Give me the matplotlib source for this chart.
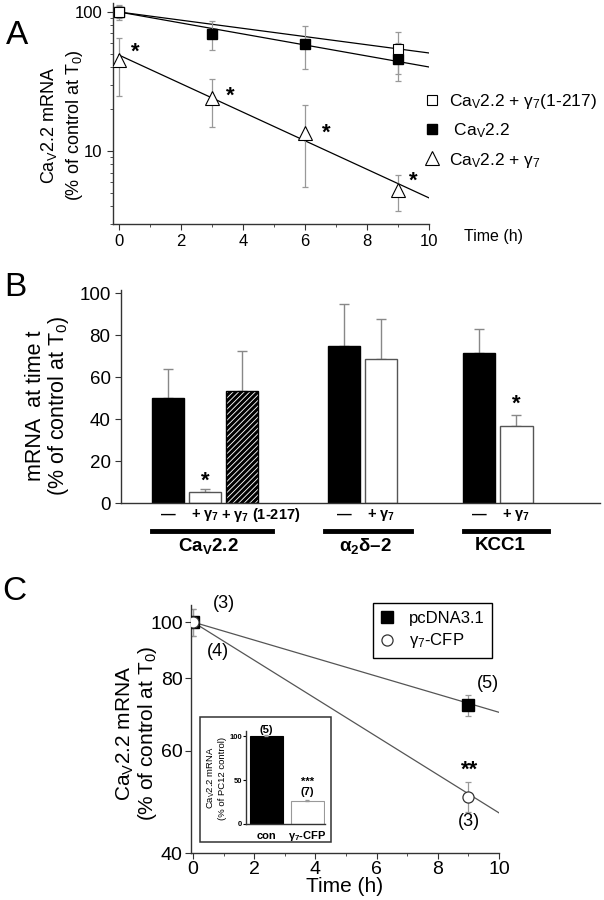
import matplotlib
matplotlib.use('Agg')
import matplotlib.pyplot as plt
import matplotlib.transforms as mtransforms
from matplotlib.patches import Rectangle
from matplotlib.lines import Line2D
from matplotlib.ticker import FixedLocator, NullFormatter, NullLocator

plt.rcParams['font.family'] = ['Liberation Sans', 'DejaVu Sans']
plt.rcParams['mathtext.fontset'] = 'custom'
plt.rcParams['mathtext.rm'] = 'Liberation Sans'
plt.rcParams['mathtext.it'] = 'Liberation Sans:italic'
plt.rcParams['mathtext.bf'] = 'Liberation Sans:bold'
plt.rcParams['hatch.linewidth'] = 2.2

# ---- panel A data (time course, log scale)
time_a = [0, 3, 6, 9]
cav_mean = [100, 69.5, 59, 46]
cav_err = [10, 16, 20, 14]
trunc_time = [0, 9]
trunc_mean = [100, 54]
trunc_err = [12, 18]
g7_mean = [45, 24, 13.5, 5.2]
g7_err = [20, 9, 8, 1.5]
# fitted lines, value at t=0 and t=10
fit_t = [0, 10]
fit_trunc = [100, 50.7]
fit_cav = [100, 40.2]
fit_g7 = [49, 4.6]
star_a = [(0.52, 51.5), (3.58, 24.9), (6.68, 13.5), (9.48, 6.1)]

# ---- panel B data (bars)
b_labels = ['—', '+ γ$_\\mathregular{7}$', '+ γ$_\\mathregular{7}$ (1-217)',
            '—', '+ γ$_\\mathregular{7}$', '—', '+ γ$_\\mathregular{7}$']
b_values = [50, 5.1, 53.3, 74.6, 68.7, 71.6, 36.7]
b_errors = [13.8, 1.6, 18.9, 20, 19, 11.2, 5.1]
b_groups = ['Ca$_\\mathregular{V}$2.2', 'α$_\\mathregular{2}$δ–2', 'KCC1']

# ---- panel C data
time_c = [0, 9]
pc_mean = [100, 72]
pc_err = [5.5, 3]
cfp_mean = [100, 50]
cfp_err = [5.5, 3]
fit_pc = [100, 69.9]
fit_cfp = [100, 46.9]
inset_labels = ['con', 'γ$_\\mathregular{7}$-CFP']
inset_values = [100, 26]
inset_errors = [0.8, 1]

W, H = 604, 900
fig = plt.figure(figsize=(W / 100, H / 100), dpi=100)


def box(l, t, r, b):
    return [l / W, 1 - b / H, (r - l) / W, (b - t) / H]


def style(ax):
    for s in ['top', 'right']:
        ax.spines[s].set_visible(False)
    for s in ['left', 'bottom']:
        ax.spines[s].set_linewidth(1.0)
        ax.spines[s].set_color('#333333')


# ================= A =================
axA = fig.add_axes(box(113, 3, 429, 224))
style(axA)
axA.set_yscale('log')
axA.set_xlim(-0.19, 10)
axA.set_ylim(2.985, 116)
axA.plot(fit_t, fit_trunc, color='black', lw=0.9)
axA.plot(fit_t, fit_cav, color='black', lw=0.9)
axA.plot(fit_t, fit_g7, color='black', lw=0.9)
ekw = dict(fmt='none', ecolor='#999999', elinewidth=0.9, capsize=2.5, capthick=0.9)
axA.errorbar(time_a, cav_mean, yerr=cav_err, **ekw)
axA.errorbar(trunc_time, trunc_mean, yerr=trunc_err, **ekw)
axA.errorbar(time_a, g7_mean, yerr=g7_err, **ekw)
h_cav, = axA.plot(time_a, cav_mean, 's', color='black', ms=7, zorder=5)
h_trunc, = axA.plot(trunc_time, trunc_mean, 's', mfc='white', mec='black', mew=0.8, ms=7, zorder=6)
h_g7, = axA.plot(time_a, g7_mean, '^', mfc='white', mec='black', mew=0.8, ms=10, zorder=6)
for x, y in star_a:
    axA.text(x, y, '*', fontsize=16, fontweight='bold', ha='center', va='center')
axA.xaxis.set_major_locator(FixedLocator([0, 2, 4, 6, 8, 10]))
axA.xaxis.set_minor_locator(FixedLocator([1, 3, 5, 7, 9]))
axA.yaxis.set_major_locator(FixedLocator([10, 100]))
axA.set_yticklabels(['10', '100'])
axA.yaxis.set_minor_locator(FixedLocator([3, 4, 5, 6, 7, 8, 9, 20, 30, 40, 50, 60, 70, 80, 90]))
axA.yaxis.set_minor_formatter(NullFormatter())
axA.tick_params(which='major', length=4, labelsize=12, colors='#333333', labelcolor='black')
axA.tick_params(which='minor', length=2.5, colors='#333333')
axA.legend([h_trunc, h_cav, h_g7],
           ['Ca$_\\mathregular{V}$2.2 + γ$_\\mathregular{7}$(1-217)',
            ' Ca$_\\mathregular{V}$2.2',
            'Ca$_\\mathregular{V}$2.2 + γ$_\\mathregular{7}$'],
           loc='upper left', bbox_to_anchor=(423 / W, 1 - 92 / H), bbox_transform=fig.transFigure,
           frameon=False, fontsize=12.5, handlelength=1.0, handletextpad=0.5,
           labelspacing=0.6, borderpad=0, borderaxespad=0)
fig.text(494 / W, 1 - 237 / H, 'Time (h)', fontsize=11.5, ha='center', va='center')
fig.text(62 / W, 1 - 125 / H, 'Ca$_\\mathregular{V}$2.2 mRNA\n(% of control at T$_\\mathregular{0}$)',
         rotation=90, ha='center', va='center', fontsize=13, multialignment='center',
         linespacing=1.35)
fig.text(17 / W, 1 - 35 / H, 'A', fontsize=24, ha='center', va='center')

# ================= B =================
axB = fig.add_axes(box(121, 290, 600, 503))
style(axB)
b_pos = [1.38, 2.47, 3.56, 6.56, 7.65, 10.54, 11.64]
b_face = ['black', 'white', 'white', 'black', 'white', 'black', 'white']
b_edge = ['black', '#555555', 'black', 'black', '#555555', 'black', '#555555']
b_hatch = [None, None, '//////', None, None, None, None]
for x, v, fc, ec, ht in zip(b_pos, b_values, b_face, b_edge, b_hatch):
    axB.bar(x, v, width=0.95, color=fc, edgecolor=ec, hatch=ht, linewidth=1.0, zorder=2)
axB.errorbar(b_pos, b_values, yerr=[[0] * len(b_values), b_errors], fmt='none',
             ecolor='#888888', elinewidth=1.0, capsize=3.5, capthick=1.0, zorder=1)
axB.set_xlim(0, 14.1)
axB.set_ylim(0, 101.5)
axB.set_xticks([])
axB.set_yticks([0, 20, 40, 60, 80, 100])
axB.tick_params(axis='y', length=4, labelsize=13.5, colors='#333333', labelcolor='black')
axB.text(b_pos[1], 10.5, '*', fontsize=16, fontweight='bold', ha='center', va='center')
axB.text(b_pos[6], 47, '*', fontsize=16, fontweight='bold', ha='center', va='center')
trB = mtransforms.blended_transform_factory(axB.transData, axB.transAxes)
b_lab_dx = [0, 0, 0.55, 0, 0, 0, 0]
for x, dx, lab in zip(b_pos, b_lab_dx, b_labels):
    axB.text(x + dx, -0.055, lab, transform=trB, ha='center', va='center', fontsize=10.5,
             fontweight='bold')
group_span = [(0.91, 4.44), (6.0, 8.53), (10.09, 12.56)]
group_mid = [2.56, 7.2, 11.15]
for (x0, x1), xm, g in zip(group_span, group_mid, b_groups):
    axB.add_line(Line2D([x0, x1], [-0.131, -0.131], transform=trB, color='black', lw=3.5, clip_on=False))
    axB.text(xm, -0.2, g, transform=trB, ha='center', va='center', fontsize=13.5, fontweight='bold')
fig.text(48 / W, 1 - 406 / H, 'mRNA  at time t\n(% of control at T$_\\mathregular{0}$)',
         rotation=90, ha='center', va='center', fontsize=15.5, multialignment='center',
         linespacing=1.05)
fig.text(15 / W, 1 - 287 / H, 'B', fontsize=24, ha='center', va='center')

# ================= C =================
axC = fig.add_axes(box(191, 605, 499, 853))
style(axC)
axC.set_yscale('log')
axC.set_xlim(-0.065, 10)
axC.set_ylim(40, 107)
axC.plot(fit_t, fit_pc, color='#555555', lw=0.9)
axC.plot(fit_t, fit_cfp, color='#555555', lw=0.9)
axC.errorbar(time_c, pc_mean, yerr=pc_err, **ekw)
axC.errorbar(time_c, cfp_mean, yerr=cfp_err, **ekw)
h_pc, = axC.plot(time_c, pc_mean, 's', color='black', ms=8, zorder=5)
h_cfp, = axC.plot(time_c, cfp_mean, 'o', mfc='white', mec='#333333', mew=0.9, ms=8, zorder=6)
axC.xaxis.set_major_locator(FixedLocator([0, 2, 4, 6, 8, 10]))
axC.xaxis.set_minor_locator(FixedLocator([1, 3, 5, 7, 9]))
axC.yaxis.set_major_locator(FixedLocator([40, 60, 80, 100]))
axC.set_yticklabels(['40', '60', '80', '100'])
axC.yaxis.set_minor_locator(NullLocator())
axC.tick_params(which='major', length=4, labelsize=14, pad=2, colors='#333333', labelcolor='black')
axC.tick_params(which='minor', length=2.5, colors='#333333')
axC.set_xlabel('Time (h)', fontsize=15, labelpad=-1)
for x, y, s in [(1.01, 107.5, '(3)'), (0.82, 89.1, '(4)'), (9.64, 78.5, '(5)'), (9.02, 45.4, '(3)')]:
    axC.text(x, y, s, fontsize=13, ha='center', va='center', clip_on=False)
axC.text(9.05, 55.5, '**', fontsize=16, fontweight='bold', ha='center', va='center')
legC = axC.legend([h_pc, h_cfp], ['pcDNA3.1', 'γ$_\\mathregular{7}$-CFP'],
                  loc='upper right', bbox_to_anchor=(492 / W, 1 - 603 / H),
                  bbox_transform=fig.transFigure, fontsize=12, fancybox=False,
                  edgecolor='black', framealpha=1, handlelength=0.8, handletextpad=0.9,
                  borderpad=0.45, labelspacing=0.35, borderaxespad=0)
legC.get_frame().set_linewidth(1.0)
fig.text(137 / W, 1 - 733 / H, 'Ca$_\\mathregular{V}$2.2 mRNA\n(% of control at T$_\\mathregular{0}$)',
         rotation=90, ha='center', va='center', fontsize=15, multialignment='center',
         linespacing=1.0)
fig.text(14 / W, 1 - 592 / H, 'C', fontsize=24, ha='center', va='center')

# inset
fig.add_artist(Rectangle((200 / W, 1 - 842 / H), 131 / W, 125 / H, transform=fig.transFigure,
                         facecolor='white', edgecolor='#333333', lw=1.1, zorder=3))
axI = fig.add_axes(box(246, 731, 325, 824), zorder=4)
axI.patch.set_alpha(0)
style(axI)
in_pos = [0.62, 1.86]
axI.bar(in_pos, inset_values, width=0.98, color=['black', 'white'],
        edgecolor=['black', '#999999'], linewidth=0.8)
axI.errorbar(in_pos, inset_values, yerr=[[0, 0], inset_errors], fmt='none', ecolor='#999999',
             elinewidth=0.6, capsize=1.5)
axI.set_xlim(0, 2.39)
axI.set_ylim(0, 105.7)
axI.set_xticks([])
axI.set_yticks([0, 50, 100])
axI.tick_params(axis='y', length=2, labelsize=5.5, pad=1)
for t in axI.get_yticklabels():
    t.set_fontweight('bold')
trI = mtransforms.blended_transform_factory(axI.transData, axI.transAxes)
for x, lab in zip(in_pos, inset_labels):
    axI.text(x, -0.13, lab, transform=trI, ha='center', va='center', fontsize=8, fontweight='bold')
axI.text(in_pos[0], 101, '(5)', ha='center', va='bottom', fontsize=8, fontweight='bold')
axI.text(in_pos[1], 48, '***', ha='center', va='center', fontsize=8, fontweight='bold')
axI.text(in_pos[1], 36, '(7)', ha='center', va='center', fontsize=8, fontweight='bold')
fig.text(216 / W, 1 - 778 / H, 'Ca$_\\mathregular{V}$2.2 mRNA\n(% of PC12 control)', rotation=90,
         ha='center', va='center', fontsize=6.8, multialignment='center', zorder=5)

fig.savefig('out.png', dpi=100)
